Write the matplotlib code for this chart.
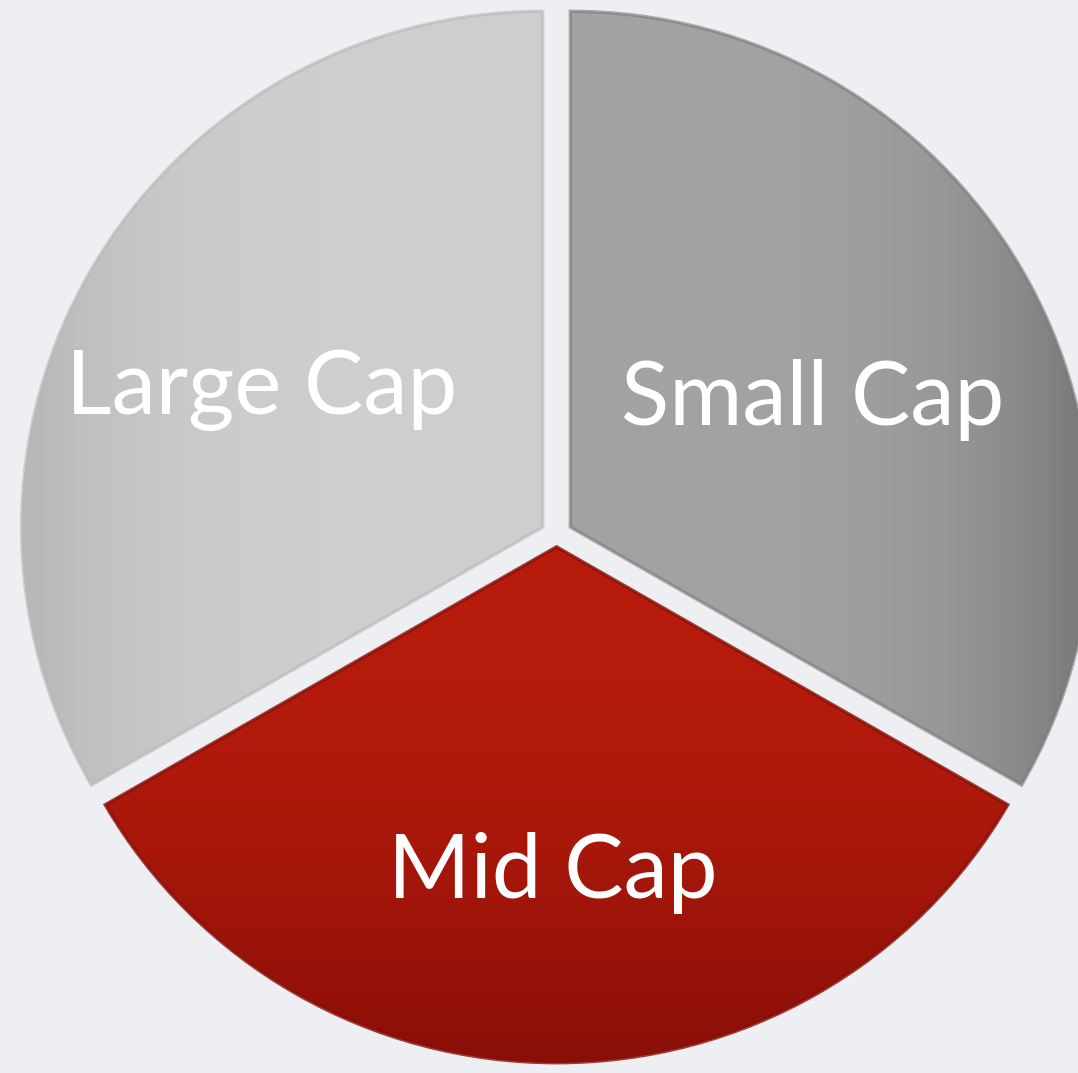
import matplotlib
matplotlib.use("Agg")
import matplotlib.pyplot as plt
import numpy as np

labels = ["Small Cap", "Mid Cap", "Large Cap"]
values = [1, 1, 1]
colors = ["#a2a2a2", "#b01a0c", "#cbcbcb"]
explode = [16, 12, 16]          # absolute offset (data units)
label_pos = [(813, 400), (553, 873), (262, 390)]   # pixel positions from top-left

W, H = 1078, 1073
SY = 0.99                        # slight vertical squash of the pie
YMAX = H / SY

def py2d(p):
    return (H - p) / SY

fig = plt.figure(figsize=(W / 100, H / 100), dpi=100)
fig.patch.set_facecolor("#eeeff3")
ax = fig.add_axes([0, 0, 1, 1])

R = 521
cx, cy = 556.5, py2d(535)
wedges, _ = ax.pie(values, colors=colors, explode=explode, startangle=90,
                   counterclock=False, radius=R, center=(cx, cy), frame=True)
ax.set_aspect("auto")
ax.set_xlim(0, W)
ax.set_ylim(0, YMAX)
ax.axis("off")

for w in wedges:
    w.set_edgecolor("none")

yy, xx = np.mgrid[0:YMAX:1.0, 0:W:1.0]

def shade(wedge, base, dark, t, rim_alpha=0.6):
    base = np.array(matplotlib.colors.to_rgb(base))
    dark = np.array(matplotlib.colors.to_rgb(dark))
    t = np.clip(t, 0, 1)[..., None]
    img = base * (1 - t) + dark * t
    im = ax.imshow(img, extent=(0, W, 0, YMAX), origin="lower", aspect="auto",
                   zorder=wedge.get_zorder() + 0.1, interpolation="bilinear")
    im.set_clip_path(wedge)
    rim = matplotlib.patches.Wedge(wedge.center, wedge.r, wedge.theta1, wedge.theta2,
                                   facecolor="none", edgecolor=dark, linewidth=2.5,
                                   alpha=rim_alpha, zorder=wedge.get_zorder() + 0.2)
    ax.add_patch(rim)

shade(wedges[0], "#a3a3a3", "#7a7a7a", ((xx - cx) / R) ** 4)
shade(wedges[1], "#b81c0c", "#8a0f08", ((cy - yy) / R) ** 2, rim_alpha=0.8)
shade(wedges[2], "#cfcfcf", "#b8b8b8", ((cx - xx) / R) ** 4)

for lab, (px, py) in zip(labels, label_pos):
    ax.text(px, py2d(py), lab, ha="center", va="center", color="white",
            fontsize=64, family="Lato", fontweight="normal", zorder=10)

ax.set_xlim(0, W)
ax.set_ylim(0, YMAX)
fig.savefig("out.png", dpi=100, facecolor=fig.get_facecolor())
